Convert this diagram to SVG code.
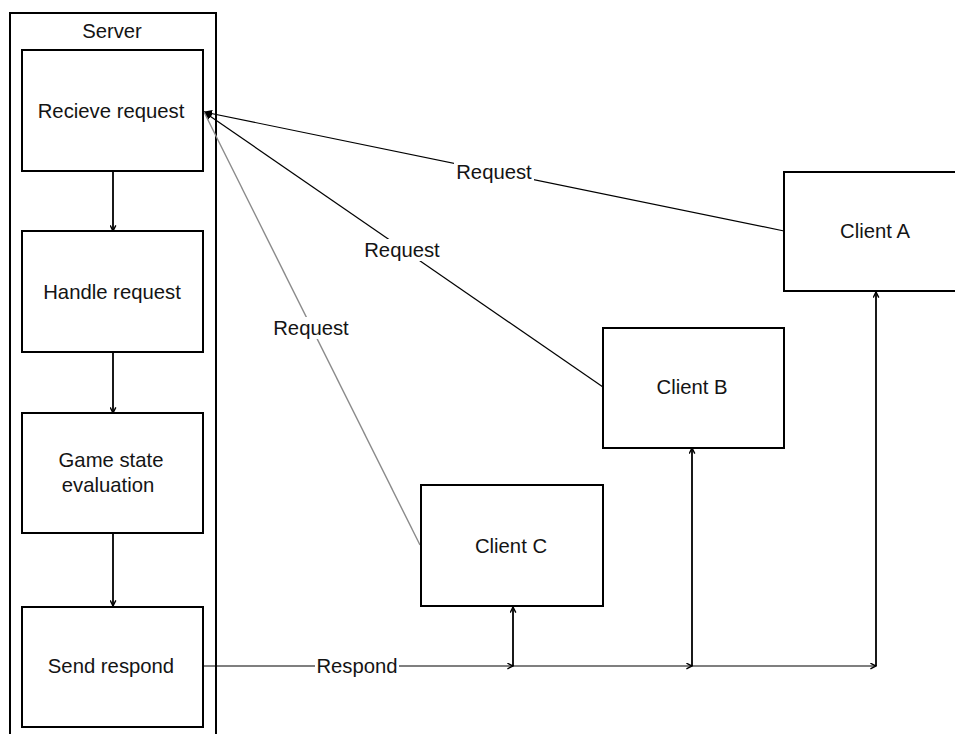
<svg xmlns="http://www.w3.org/2000/svg" width="955" height="734" viewBox="0 0 955 734">
  <style>
    .box { fill: #fff; stroke: #000; stroke-width: 2; }
    .lane { fill: none; stroke: #000; stroke-width: 2; }
    .lbl { font-family: "Liberation Sans", Arial, sans-serif; font-size: 20.3px; fill: #141414; text-anchor: middle; dominant-baseline: central; }
    .edge { fill: none; stroke: #000; stroke-width: 1.8; }
    .thin { fill: none; stroke: #000; stroke-width: 1.2; }
    .grey { fill: none; stroke: #8a8a8a; stroke-width: 1.4; }
    .tag { fill: #fff; }
  </style>
  <defs>
    <marker id="open" viewBox="0 0 10 10" refX="9" refY="5" markerWidth="7" markerHeight="7" markerUnits="userSpaceOnUse" orient="auto">
      <path d="M1,1 L9,5 L1,9" fill="none" stroke="#000" stroke-width="2"/>
    </marker>
    <marker id="solid" viewBox="0 0 10 10" refX="9" refY="5" markerWidth="9" markerHeight="9" markerUnits="userSpaceOnUse" orient="auto">
      <path d="M0,1 L10,5 L0,9 Z" fill="#000"/>
    </marker>
  </defs>

  <rect width="955" height="734" fill="#fff"/>

  <!-- server swimlane -->
  <g id="server">
    <rect class="lane" x="10" y="13" width="206" height="730"/>
    <text class="lbl" x="112" y="31">Server</text>
  </g>

  <g id="connectors">
    <!-- server pipeline -->
    <line class="edge" x1="113" y1="171" x2="113" y2="231" marker-end="url(#open)"/>
    <line class="edge" x1="113" y1="352" x2="113" y2="413" marker-end="url(#open)"/>
    <line class="edge" x1="113" y1="533" x2="113" y2="606" marker-end="url(#open)"/>

    <!-- client requests -->
    <line class="thin" x1="784" y1="231" x2="204" y2="112" marker-end="url(#solid)"/>
    <line class="thin" x1="603" y1="387" x2="204" y2="112" marker-end="url(#solid)"/>
    <line class="grey" x1="420" y1="545" x2="204" y2="112"/>

    <!-- response bus -->
    <line class="thin" x1="203" y1="666" x2="513" y2="666" marker-end="url(#open)"/>
    <line class="thin" x1="513" y1="666" x2="692" y2="666" marker-end="url(#open)"/>
    <line class="thin" x1="692" y1="666" x2="876" y2="666" marker-end="url(#open)"/>
    <line class="edge" x1="513" y1="666" x2="513" y2="607" marker-end="url(#open)"/>
    <line class="edge" x1="692" y1="666" x2="692" y2="448" marker-end="url(#open)"/>
    <line class="edge" x1="876" y1="666" x2="876" y2="292" marker-end="url(#open)"/>

    <!-- edge labels -->
    <rect class="tag" x="454" y="161" width="80" height="22"/>
    <text class="lbl" x="494" y="172">Request</text>
    <rect class="tag" x="362" y="239" width="80" height="22"/>
    <text class="lbl" x="402" y="250">Request</text>
    <rect class="tag" x="271" y="317" width="80" height="22"/>
    <text class="lbl" x="311" y="328">Request</text>
    <rect class="tag" x="315" y="655" width="84" height="22"/>
    <text class="lbl" x="357" y="666">Respond</text>
  </g>

  <g id="recieve-request">
    <rect class="box" x="22" y="50" width="181" height="121"/>
    <text class="lbl" x="111" y="111">Recieve request</text>
  </g>
  <g id="handle-request">
    <rect class="box" x="22" y="231" width="181" height="121"/>
    <text class="lbl" x="112" y="292">Handle request</text>
  </g>
  <g id="game-state-evaluation">
    <rect class="box" x="22" y="413" width="181" height="120"/>
    <text class="lbl" x="111" y="460">Game state</text>
    <text class="lbl" x="108" y="485">evaluation</text>
  </g>
  <g id="send-respond">
    <rect class="box" x="22" y="607" width="181" height="120"/>
    <text class="lbl" x="111" y="666">Send respond</text>
  </g>

  <g id="client-a">
    <rect class="box" x="784" y="172" width="180" height="119"/>
    <text class="lbl" x="875" y="231">Client A</text>
  </g>
  <g id="client-b">
    <rect class="box" x="603" y="328" width="181" height="120"/>
    <text class="lbl" x="692" y="387">Client B</text>
  </g>
  <g id="client-c">
    <rect class="box" x="421" y="485" width="182" height="121"/>
    <text class="lbl" x="511" y="546">Client C</text>
  </g>
</svg>
